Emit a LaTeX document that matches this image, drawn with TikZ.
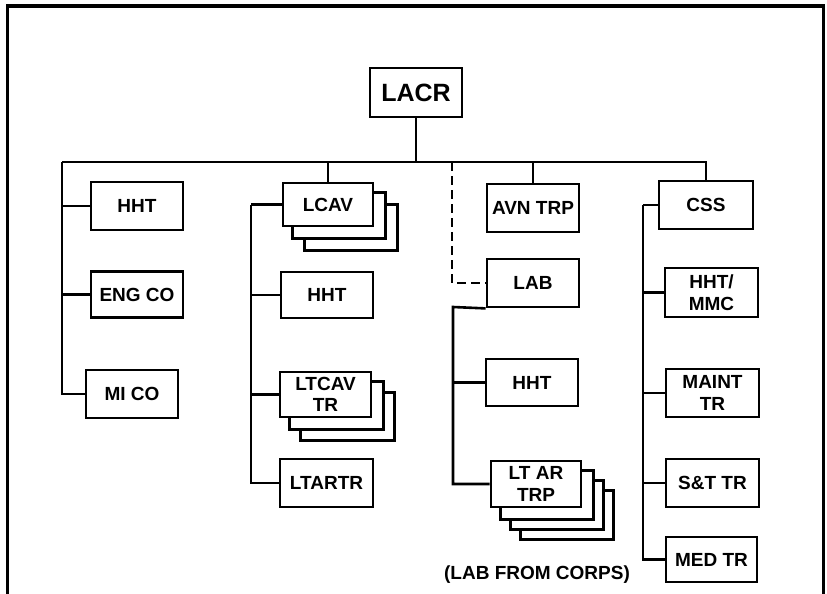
\documentclass[tikz,border=0pt]{standalone}
\usepackage{fontspec}
\setmainfont{Liberation Sans}
\usetikzlibrary{backgrounds}

\tikzset{
  unitbox/.style={draw, line width=2.8pt, fill=white, inner sep=0pt,
    minimum width=92pt, minimum height=48pt, align=center,
    font=\fontsize{19}{21.5}\selectfont\bfseries},
  link/.style={line width=2.6pt},
}

\begin{document}
\begin{tikzpicture}[x=1pt,y=-1pt]

    \useasboundingbox (0,0) rectangle (827,594);

    % outer frame, open at the bottom
    \draw[line width=3.4pt] (7.5,594) -- (7.5,6) -- (823.5,6) -- (823.5,594);

    % headquarters
    \node[unitbox, font=\fontsize{25}{27}\selectfont\bfseries, minimum height=49pt] (lacr) at (416,92.5) {LACR};

    % first column
    \node[unitbox] (hhtA) at (137,206) {HHT};
    \node[unitbox, minimum height=46pt] (engco) at (137,294.5) {ENG CO};
    \node[unitbox] (mico) at (132,394) {MI CO};

    % second column
    \node[unitbox, minimum width=90pt, minimum height=43pt] (lcav) at (328,204.5) {LCAV};
    \node[unitbox, minimum height=46pt] (hhtB) at (327,295) {HHT};
    \node[unitbox, minimum width=91pt, minimum height=45pt] (ltcav) at (325.5,394.5) {LTCAV\\TR};
    \node[unitbox, minimum width=93pt] (ltartr) at (326.5,483) {LTARTR};

    % third column
    \node[unitbox] (avn) at (533,208) {AVN TRP};
    \node[unitbox] (lab) at (533,283) {LAB};
    \node[unitbox, minimum height=47pt] (hhtC) at (532,382.5) {HHT};
    \node[unitbox, minimum width=90pt, minimum height=46pt] (ltar) at (536,484) {LT AR\\TRP};
    \node[font=\fontsize{19}{21.5}\selectfont\bfseries] (note) at (537,575) {(LAB FROM CORPS)};

    % fourth column
    \node[unitbox, minimum width=94pt] (css) at (706,205) {CSS};
    \node[unitbox, minimum width=93pt, minimum height=49pt] (mmc) at (711.5,292.5) {HHT/\\MMC};
    \node[unitbox, minimum width=93pt] (maint) at (712.5,393) {MAINT\\TR};
    \node[unitbox, minimum width=93pt] (st) at (712.5,483) {S\&T TR};
    \node[unitbox, minimum width=91pt, minimum height=45pt] (med) at (711.5,559.5) {MED TR};

    % stacked copies behind the multiple units
    \begin{scope}[on background layer]
        \foreach \d in {23,11}
            \draw[line width=2.8pt, fill=white] ([shift={(\d,\d)}]lcav.north west) rectangle ([shift={(\d,\d)}]lcav.south east);
        \foreach \d in {22,11}
            \draw[line width=2.8pt, fill=white] ([shift={(\d,\d)}]ltcav.north west) rectangle ([shift={(\d,\d)}]ltcav.south east);
        \foreach \d in {31,21,11}
            \draw[line width=2.8pt, fill=white] ([shift={(\d,\d)}]ltar.north west) rectangle ([shift={(\d,\d)}]ltar.south east);
    \end{scope}

    % main bus
    \coordinate (busL) at (62,162);
    \draw[link] (lacr.south) -- (lacr.south |- busL);
    \draw[link] (busL) -- (css.north |- busL) -- (css.north);
    \draw[link] (lcav.north |- busL) -- (lcav.north);
    \draw[link] (avn.north |- busL) -- (avn.north);

    % first column links
    \foreach \n in {hhtA,engco,mico}
        \draw[link] (busL) |- (\n.west);

    % second column links
    \coordinate (trunkB) at (251,204.5);
    \draw[link] (lcav.west) -- (trunkB);
    \foreach \n in {hhtB,ltcav,ltartr}
        \draw[link] (trunkB) |- (\n.west);

    % third column links
    \coordinate (dashTop) at (452,162);
    \draw[link, dash pattern=on 9pt off 5pt] (dashTop) |- (lab.west);
    \coordinate (trunkC) at (453,307);
    \draw[link] (lab.south west) -- (trunkC) |- (ltar.west);
    \draw[link] (trunkC) |- (hhtC.west);

    % fourth column links
    \coordinate (trunkD) at (643,205);
    \draw[link] (css.west) -- (trunkD);
    \foreach \n in {mmc,maint,st,med}
        \draw[link] (trunkD) |- (\n.west);

\end{tikzpicture}
\end{document}
